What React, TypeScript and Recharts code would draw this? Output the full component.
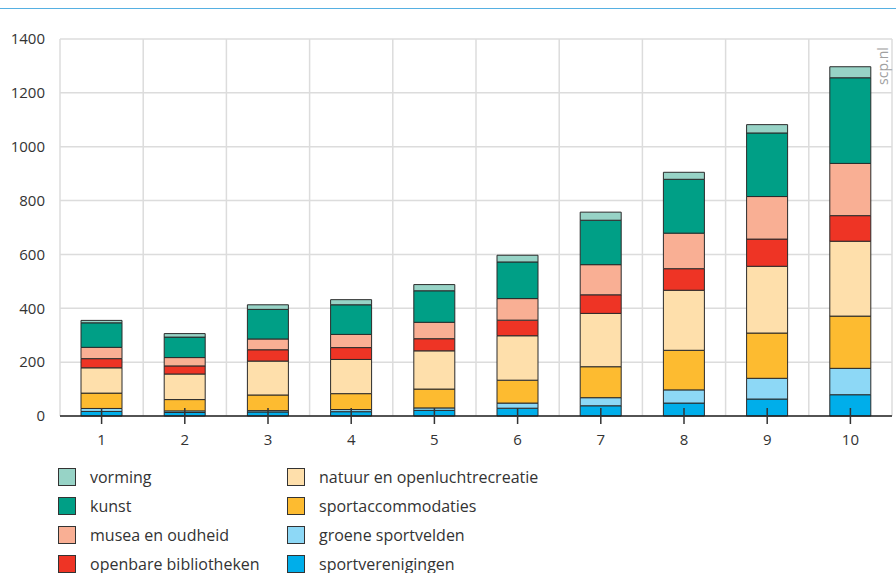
import { BarChart, Bar, XAxis, YAxis, CartesianGrid } from "recharts";

const CATEGORIES = ["1", "2", "3", "4", "5", "6", "7", "8", "9", "10"];
const Y_TICKS = [0, 200, 400, 600, 800, 1000, 1200, 1400];

// stacked bottom -> top
const SPORTVERENIGINGEN = [17, 13, 15, 16, 21, 29, 38, 48, 63, 79];
const GROENE_SPORTVELDEN = [11, 6, 5, 8, 9, 19, 30, 49, 77, 98];
const SPORTACCOMMODATIES = [57, 42, 58, 59, 70, 85, 115, 147, 168, 194];
const NATUUR = [94, 95, 126, 127, 142, 165, 198, 223, 248, 278];
const BIBLIOTHEKEN = [34, 30, 42, 44, 45, 58, 69, 80, 101, 95];
const MUSEA = [42, 31, 40, 49, 61, 80, 112, 132, 158, 194];
const KUNST = [91, 76, 110, 110, 117, 136, 165, 200, 236, 318];
const VORMING = [9, 13, 17, 19, 23, 25, 30, 26, 31, 41];

const SERIES = [
  { key: "sportverenigingen", label: "sportverenigingen", values: SPORTVERENIGINGEN, color: "#00aeea" },
  { key: "groene", label: "groene sportvelden", values: GROENE_SPORTVELDEN, color: "#8dd8f6" },
  { key: "sportacc", label: "sportaccommodaties", values: SPORTACCOMMODATIES, color: "#fdbb30" },
  { key: "natuur", label: "natuur en openluchtrecreatie", values: NATUUR, color: "#fedfab" },
  { key: "bibliotheken", label: "openbare bibliotheken", values: BIBLIOTHEKEN, color: "#ee3425" },
  { key: "musea", label: "musea en oudheid", values: MUSEA, color: "#f9af94" },
  { key: "kunst", label: "kunst", values: KUNST, color: "#009f86" },
  { key: "vorming", label: "vorming", values: VORMING, color: "#97d3c6" },
];

const data = CATEGORIES.map((cat, i) => {
  const row: Record<string, string | number> = { cat };
  SERIES.forEach((s) => (row[s.key] = s.values[i]));
  return row;
});

const FONT = "'Open Sans', sans-serif";

function XTick(props: any) {
  const { x, y, payload } = props;
  const axisY = y - 18;
  return (
    <g>
      <line x1={x} x2={x} y1={axisY - 8} y2={axisY + 8} stroke="#333" strokeWidth={1.5} />
      <text x={x} y={y} dy="0.71em" textAnchor="middle" fill="#333" fontSize={15} fontFamily={FONT}>
        {payload.value}
      </text>
    </g>
  );
}

export default function App() {
  const legendItems = [...SERIES].reverse();

  return (
    <div
      style={{
        position: "relative",
        width: 896,
        height: 573,
        overflow: "hidden",
        background: "#fff",
        fontFamily: FONT,
      }}
    >
      <style>{`html, body { margin: 0; padding: 0; overflow: hidden; }`}</style>
      <div style={{ position: "absolute", left: 0, top: 8, width: 896, borderTop: "1.5px solid #56b0e2" }} />

      <BarChart
        width={896}
        height={450}
        data={data}
        margin={{ top: 39, right: 4, left: 0, bottom: 4 }}
        barSize={41}
      >
        <CartesianGrid
          stroke="#dcdcdc"
          strokeWidth={1.5}
          verticalCoordinatesGenerator={({ offset }: any) =>
            CATEGORIES.map((_, i) => offset.left + (i * offset.width) / CATEGORIES.length).concat(
              offset.left + offset.width
            )
          }
        />
        <YAxis
          width={60}
          domain={[0, 1400]}
          ticks={Y_TICKS}
          axisLine={false}
          tickLine={false}
          tickSize={0}
          tickMargin={15}
          tick={{ fill: "#333", fontSize: 15, fontFamily: FONT }}
        />
        {SERIES.map((s) => (
          <Bar
            key={s.key}
            dataKey={s.key}
            name={s.label}
            stackId="a"
            fill={s.color}
            stroke="#2b2b2b"
            strokeWidth={1}
            isAnimationActive={false}
          />
        ))}
        <XAxis
          dataKey="cat"
          axisLine={{ stroke: "#222", strokeWidth: 1.5 }}
          tickLine={false}
          tickSize={8}
          tickMargin={10}
          tick={<XTick />}
          interval={0}
        />
      </BarChart>

      <div
        style={{
          position: "absolute",
          left: 882,
          top: 66,
          transform: "translate(-50%, -50%) rotate(-90deg)",
          color: "#a0a0a0",
          fontSize: 14,
          whiteSpace: "nowrap",
        }}
      >
        scp.nl
      </div>

      <div
        style={{
          position: "absolute",
          left: 58,
          top: 462,
          display: "grid",
          gridTemplateColumns: "229px auto",
          gridTemplateRows: "repeat(4, 29px)",
          gridAutoFlow: "column",
        }}
      >
        {legendItems.map((s) => (
          <div key={s.key} style={{ display: "flex", alignItems: "center", fontSize: 16, color: "#333" }}>
            <span
              style={{
                display: "inline-block",
                width: 16,
                height: 16,
                background: s.color,
                border: "1px solid #333",
                marginRight: 14,
              }}
            />
            {s.label}
          </div>
        ))}
      </div>
    </div>
  );
}
